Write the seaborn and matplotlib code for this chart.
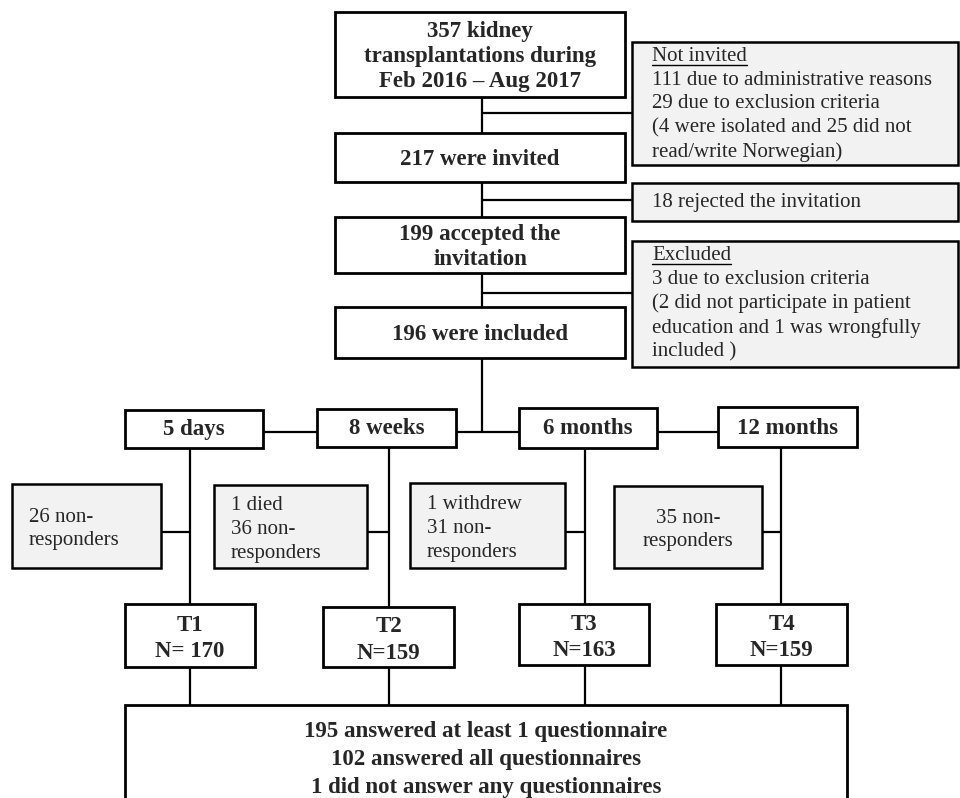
import matplotlib
matplotlib.use("Agg")
import matplotlib.pyplot as plt
import seaborn as sns
from matplotlib.patches import Rectangle

sns.set_theme(style="white")
plt.rcParams["font.family"] = ["Liberation Serif", "DejaVu Serif"]

# --- texts / numbers from the flowchart ---
main_labels = ["357 kidney\ntransplantations during\nFeb 2016 \u2013 Aug 2017",
               "217 were invited",
               "199 accepted the\ninvitation",
               "196 were included"]
side_titles = ["Not invited", "", "Excluded"]
side_texts = ["111 due to administrative reasons\n29 due to exclusion criteria\n(4 were isolated and 25 did not\nread/write Norwegian)",
              "18 rejected the invitation",
              "3 due to exclusion criteria\n(2 did not participate in patient\neducation and 1 was wrongfully\nincluded )"]
time_labels = ["5 days", "8 weeks", "6 months", "12 months"]
nonresp_labels = ["26 non-\nresponders", "1 died\n36 non-\nresponders",
                  "1 withdrew\n31 non-\nresponders", "35 non-\nresponders"]
wave_labels = ["T1", "T2", "T3", "T4"]
wave_n = ["N= 170", "N=159", "N=163", "N=159"]
summary_lines = ["195 answered at least 1 questionnaire",
                 "102 answered all questionnaires",
                 "1 did not answer any questionnaires"]

# --- layout (pixel coordinates) ---
main_boxes = [(335, 12, 625, 97), (335, 133, 625, 182), (335, 217, 625, 273), (335, 307, 625, 358)]
side_boxes = [(632, 42, 958, 165), (632, 183, 958, 221), (632, 241, 958, 367)]
side_link_y = [113, 200, 293]
time_boxes = [(125, 410, 263, 448), (317, 409, 456, 447), (519, 408, 657, 448), (718, 407, 857, 447)]
col_x = [190, 389, 585, 781]
nr_boxes = [(12, 484, 161, 568), (214, 485, 367, 568), (410, 483, 565, 568), (614, 486, 762, 568)]
nr_align = ["left", "left", "left", "center"]
wave_boxes = [(125, 604, 255, 667), (323, 607, 454, 667), (519, 604, 649, 665), (716, 604, 847, 665)]
sum_box = (125, 705, 847, 805)
stem_x = 482
grey = "#f2f2f2"
lw_box = 2.0
lw_line = 1.6

fig = plt.figure(figsize=(9.6, 7.98), dpi=100)
ax = fig.add_axes([0, 0, 1, 1])
ax.set_xlim(0, 960)
ax.set_ylim(798, 0)
ax.axis("off")


def box(b, fc="white", lw=lw_box):
    x0, y0, x1, y1 = b
    ax.add_patch(Rectangle((x0, y0), x1 - x0, y1 - y0, facecolor=fc,
                           edgecolor="black", linewidth=lw, zorder=3))


def line(xs, ys):
    ax.plot(xs, ys, color="black", linewidth=lw_line, zorder=1, solid_capstyle="butt")


# main column
line([stem_x, stem_x], [97, 432])
for b, lab in zip(main_boxes, main_labels):
    box(b)
    ax.text((b[0] + b[2]) / 2, (b[1] + b[3]) / 2 + 2, lab, ha="center", va="center",
            fontsize=16.5, fontweight="bold", linespacing=1.27, zorder=4)

# side boxes
underline_items = []
for b, ly, title, txt in zip(side_boxes, side_link_y, side_titles, side_texts):
    line([stem_x, b[0]], [ly, ly])
    box(b, fc=grey, lw=1.8)
    if title:
        t = ax.text(652, b[1] + 5, title, ha="left", va="top", fontsize=15, zorder=4)
        underline_items.append(t)
        ax.text(652, b[1] + 29, txt, ha="left", va="top", fontsize=15,
                linespacing=1.32, zorder=4)
    else:
        ax.text(652, (b[1] + b[3]) / 2 + 1, txt, ha="left", va="center", fontsize=15, zorder=4)

# time points row
line([263, 857], [432, 432])
for b, lab in zip(time_boxes, time_labels):
    box(b)
    ax.text((b[0] + b[2]) / 2, (b[1] + b[3]) / 2 + 1, lab, ha="center", va="center",
            fontsize=16.5, fontweight="bold", zorder=4)

# columns down to summary box
for cx, nb, lab, al, wb, wl, wn in zip(col_x, nr_boxes, nonresp_labels, nr_align,
                                       wave_boxes, wave_labels, wave_n):
    line([cx, cx], [448, 705])
    line([nb[2], cx], [532, 532])
    box(nb, fc=grey, lw=1.8)
    cy = (nb[1] + nb[3]) / 2 + 3
    if al == "left":
        ax.text(nb[0] + 17, cy, lab, ha="left", va="center", fontsize=15,
                linespacing=1.35, zorder=4)
    else:
        ax.text((nb[0] + nb[2]) / 2, cy, lab, ha="center", va="center", fontsize=15,
                linespacing=1.3, multialignment="center", zorder=4)
    box(wb)
    ax.text((wb[0] + wb[2]) / 2, (wb[1] + wb[3]) / 2 + 3, wl + "\n" + wn, ha="center",
            va="center", fontsize=16.5, fontweight="bold", linespacing=1.35, zorder=4)

# summary
box(sum_box)
for i, s in enumerate(summary_lines):
    ax.text((sum_box[0] + sum_box[2]) / 2, 731 + 28.5 * i, s, ha="center", va="center",
            fontsize=16.5, fontweight="bold", zorder=4)

# underline the side-box titles
fig.canvas.draw()
inv = ax.transData.inverted()
for t in underline_items:
    bb = t.get_window_extent()
    (x0, y0), (x1, y1) = inv.transform([[bb.x0, bb.y0], [bb.x1, bb.y1]])
    ax.plot([x0, x1], [y0 - 1, y0 - 1], color="black", linewidth=1.0, zorder=5)

fig.savefig("out.png", dpi=100)
